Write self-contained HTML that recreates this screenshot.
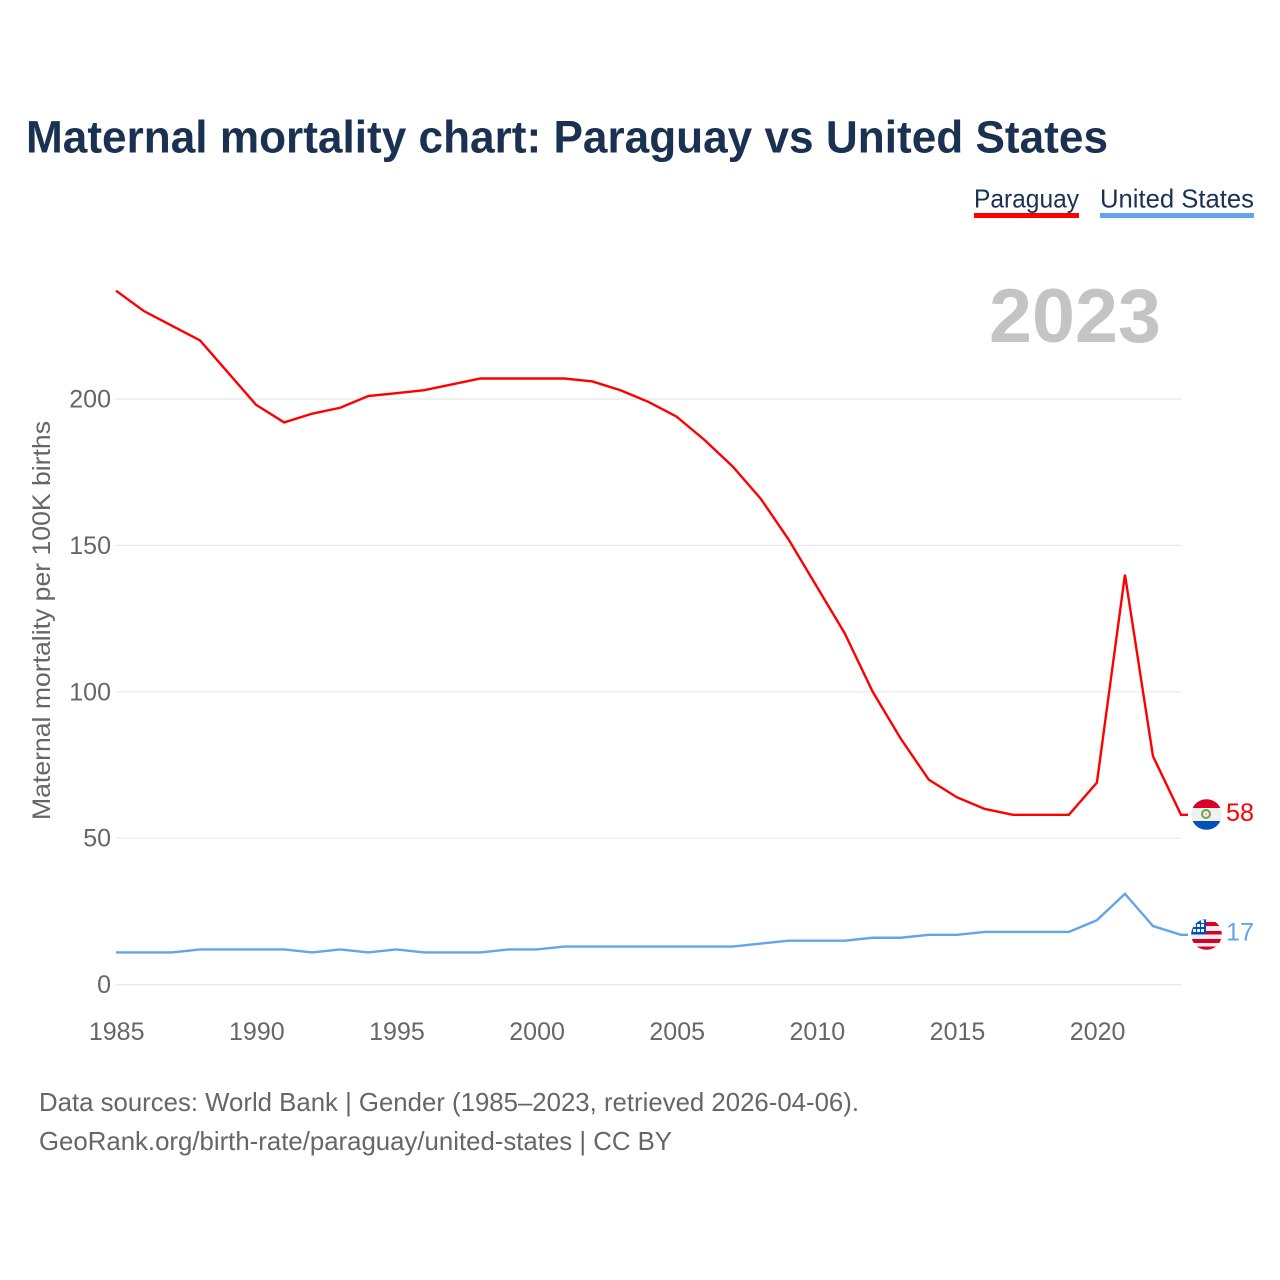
<!DOCTYPE html>
<html lang="en">
<head>
<meta charset="utf-8">
<title>Maternal mortality chart: Paraguay vs United States</title>
<style>
html,body{margin:0;padding:0;background:#fff;width:1280px;height:1280px;overflow:hidden}
svg{display:block}
text{font-family:"Liberation Sans",sans-serif}
</style>
</head>
<body>
<svg id="chart" xmlns="http://www.w3.org/2000/svg" width="1280" height="1280" viewBox="0 0 1280 1280">
  <defs>
    <clipPath id="flag-clip-py"><circle cx="1206.5" cy="814.5" r="15.3"/></clipPath>
    <clipPath id="flag-clip-us"><circle cx="1206.5" cy="934.5" r="15.3"/></clipPath>
  </defs>
  <rect width="1280" height="1280" fill="#fff"/>
  <text x="26" y="152.5" font-size="45" font-weight="700" fill="#1a3152" textLength="1082" lengthAdjust="spacingAndGlyphs">Maternal mortality chart: Paraguay vs United States</text>

  <g>
    <g>
      <text x="974" y="207.5" font-size="26" fill="#1a3152" textLength="105" lengthAdjust="spacingAndGlyphs">Paraguay</text>
      <rect x="974" y="213" width="105" height="5" fill="#ff0000"/>
    </g>
    <g>
      <text x="1100" y="207.5" font-size="26" fill="#1a3152" textLength="154" lengthAdjust="spacingAndGlyphs">United States</text>
      <rect x="1100" y="213" width="154" height="5" fill="#63a4ec"/>
    </g>
  </g>

  <text x="1075" y="342" text-anchor="middle" font-size="76" font-weight="700" fill="#c4c4c4" textLength="172" lengthAdjust="spacingAndGlyphs">2023</text>

  <g id="grid"></g>
  <g id="yticks"></g>
  <g id="xticks"></g>
  <text transform="translate(50,620.5) rotate(-90)" text-anchor="middle" font-size="25" fill="#666" textLength="399" lengthAdjust="spacingAndGlyphs">Maternal mortality per 100K births</text>

  <g id="series"></g>

  <g clip-path="url(#flag-clip-py)">
    <rect x="1190" y="798" width="33" height="33" fill="#f0f0f0"/>
    <rect x="1190" y="798" width="33" height="10" fill="#d80027"/>
    <rect x="1190" y="821" width="33" height="10" fill="#0052b4"/>
    <circle cx="1206" cy="814" r="4" fill="none" stroke="#6da544" stroke-width="2"/>
    <circle cx="1206" cy="814" r="1.2" fill="#f7b4b4"/>
  </g>
  <g clip-path="url(#flag-clip-us)">
    <rect x="1190" y="918" width="33" height="33" fill="#f0f0f0"/>
    <rect x="1190" y="922" width="33" height="4" fill="#d80027"/>
    <rect x="1190" y="931" width="33" height="3.5" fill="#d80027"/>
    <rect x="1190" y="939" width="33" height="4" fill="#d80027"/>
    <rect x="1190" y="946.5" width="33" height="4" fill="#d80027"/>
    <rect x="1190" y="918" width="16" height="16.5" fill="#0052b4"/>
    <path d="M1201 920h3v3h-3zM1197 924h3v3h-3zM1201 924h3v3h-3zM1197 929h3v3h-3zM1201 929h3v3h-3zM1193 929h3v3h-3zM1193 924h3v3h-3z" fill="#f0f0f0"/>
  </g>

  <text x="1226" y="821" font-size="25" fill="#ff0000" textLength="28" lengthAdjust="spacingAndGlyphs">58</text>
  <text x="1226" y="940.5" font-size="25" fill="#63a4ec" textLength="28" lengthAdjust="spacingAndGlyphs">17</text>

  <text x="39" y="1111" font-size="26" fill="#666" textLength="820" lengthAdjust="spacingAndGlyphs">Data sources: World Bank | Gender (1985–2023, retrieved 2026-04-06).</text>
  <text x="39" y="1150" font-size="26" fill="#666" textLength="633" lengthAdjust="spacingAndGlyphs">GeoRank.org/birth-rate/paraguay/united-states | CC BY</text>
</svg>
<script>
const years = [1985,1986,1987,1988,1989,1990,1991,1992,1993,1994,1995,1996,1997,1998,1999,2000,2001,2002,2003,2004,2005,2006,2007,2008,2009,2010,2011,2012,2013,2014,2015,2016,2017,2018,2019,2020,2021,2022,2023];
const paraguay = [237,230,225,220,209,198,192,195,197,201,202,203,205,207,207,207,207,206,203,199,194,186,177,166,152,136,120,100,84,70,64,60,58,58,58,69,140,78,58];
const unitedStates = [11,11,11,12,12,12,12,11,12,11,12,11,11,11,12,12,13,13,13,13,13,13,13,14,15,15,15,16,16,17,17,18,18,18,18,22,31,20,17];
const yTickValues = [0,50,100,150,200];
const xTickValues = [1985,1990,1995,2000,2005,2010,2015,2020];

const NS = 'http://www.w3.org/2000/svg';
function xScale(year) { return 116 + (year - 1985) * (1181 - 116) / (2023 - 1985); }
function yScale(value) { return 984.6 - value * (984.6 - 399) / 200; }
function make(tag, parent, attrs) {
  const el = document.createElementNS(NS, tag);
  for (const k in attrs) el.setAttribute(k, attrs[k]);
  parent.appendChild(el);
  return el;
}

const grid = document.getElementById('grid');
const yticks = document.getElementById('yticks');
const xticks = document.getElementById('xticks');
const series = document.getElementById('series');

yTickValues.forEach(function (v) {
  const line = make('line', grid, {x1: 116, x2: 1181, y1: yScale(v), y2: yScale(v), stroke: '#e8e8e8', 'stroke-width': 1.2});
  
  
  const label = make('text', yticks, {x: 111, y: yScale(v) + 8.5, 'text-anchor': 'end', 'font-size': 25, fill: '#666'});
  
  
  label.textContent = String(v);
});

xTickValues.forEach(function (v) {
  const label = make('text', xticks, {x: xScale(v) + 0.7, y: 1040, 'text-anchor': 'middle', 'font-size': 25, fill: '#666'});
  
  
  label.textContent = String(v);
});

function drawLine(values, color, name) {
  const pts = values.map(function (v, i) { return xScale(years[i]).toFixed(2) + ',' + yScale(v).toFixed(2); });
  const last = values[values.length - 1];
  pts.push('1188,' + yScale(last).toFixed(2));
  const line = make('polyline', series, {points: pts.join(' '), fill: 'none', stroke: color, 'stroke-width': 2.4, 'stroke-linejoin': 'miter'});
  
  
}
drawLine(unitedStates, '#63a4ec', 'line-united-states');
drawLine(paraguay, '#ff0000', 'line-paraguay');
</script>
</body>
</html>
